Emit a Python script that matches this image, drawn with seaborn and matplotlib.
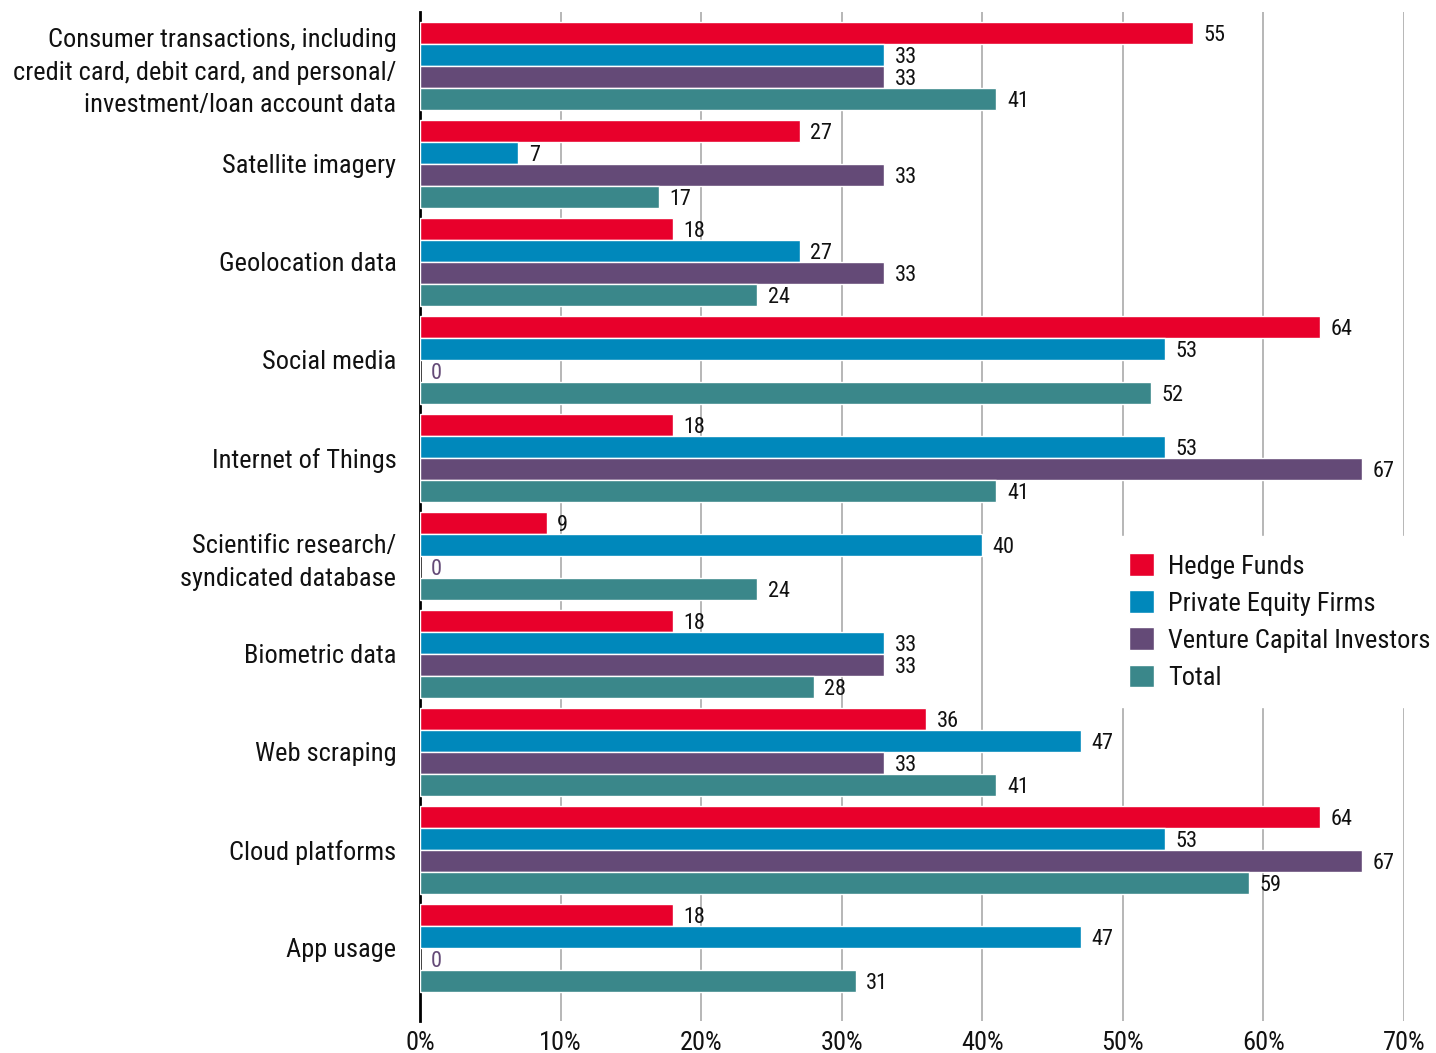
import matplotlib
matplotlib.use("Agg")
import matplotlib.pyplot as plt
import seaborn as sns
import pandas as pd
from matplotlib import font_manager

categories = [
    "Consumer transactions, including\ncredit card, debit card, and personal/\ninvestment/loan account data",
    "Satellite imagery",
    "Geolocation data",
    "Social media",
    "Internet of Things",
    "Scientific research/\nsyndicated database",
    "Biometric data",
    "Web scraping",
    "Cloud platforms",
    "App usage",
]
series = ["Hedge Funds", "Private Equity Firms", "Venture Capital Investors", "Total"]
hedge_funds = [55, 27, 18, 64, 18, 9, 18, 36, 64, 18]
private_equity = [33, 7, 27, 53, 53, 40, 33, 47, 53, 47]
venture_capital = [33, 33, 33, 0, 67, 0, 33, 33, 67, 0]
total = [41, 17, 24, 52, 41, 24, 28, 41, 59, 31]
x_ticks = [0, 10, 20, 30, 40, 50, 60, 70]

colors = ["#E8002B", "#0088BB", "#644A77", "#3A878A"]

sns.set_theme(style="white")
names = {f.name for f in font_manager.fontManager.ttflist}
fam = [f for f in ["Roboto Condensed", "Liberation Sans Narrow", "Roboto", "DejaVu Sans"] if f in names]
plt.rcParams["font.family"] = fam

rows = []
for s, vals in zip(series, [hedge_funds, private_equity, venture_capital, total]):
    for c, v in zip(categories, vals):
        rows.append({"category": c, "series": s, "value": v})
df = pd.DataFrame(rows)

fig = plt.figure(figsize=(14.36, 10.53), dpi=100)
ax = fig.add_axes([420 / 1436, 1 - 1021 / 1053, (1404 - 420) / 1436, (1021 - 12) / 1053])

sns.barplot(data=df, y="category", x="value", hue="series", order=categories,
            hue_order=series, palette=colors, saturation=1, orient="h", width=0.9,
            edgecolor="white", linewidth=1, ax=ax, zorder=3)

for container, s in zip(ax.containers, series):
    for bar in container:
        w = bar.get_width()
        yc = bar.get_y() + bar.get_height() / 2
        col = colors[2] if w == 0 else "#111111"
        ax.text(w + 0.75, yc, f"{int(round(w))}", va="center_baseline", ha="left",
                fontsize=16, color=col, zorder=4)

ax.set_xlim(0, 70)
ax.set_ylim(9.745, -0.551)
ax.set_xticks(x_ticks)
ax.set_xticklabels([f"{t}%" for t in x_ticks], fontsize=19, color="#111111")
ax.tick_params(axis="x", length=0, pad=7)
ax.tick_params(axis="y", length=0, pad=17, labelsize=19, labelcolor="#111111")
for lab in ax.get_yticklabels():
    lab.set_linespacing(1.45)
ax.xaxis.grid(True, color="#AAAAAA", linewidth=1.2, zorder=0)
ax.set_axisbelow(True)
for sp in ["top", "right", "bottom"]:
    ax.spines[sp].set_visible(False)
ax.spines["left"].set_color("black")
ax.spines["left"].set_linewidth(2)
ax.set_xlabel("")
ax.set_ylabel("")

leg = ax.legend(loc="upper left", bbox_to_anchor=(0.690, 0.4936), frameon=True,
                fontsize=19, handlelength=0.92, handleheight=0.92, handletextpad=0.55,
                labelspacing=0.45, borderpad=0.65, facecolor="white", edgecolor="white",
                framealpha=1)
for t in leg.get_texts():
    t.set_color("#111111")
leg.set_zorder(10)

fig.savefig("out.png", dpi=100)
